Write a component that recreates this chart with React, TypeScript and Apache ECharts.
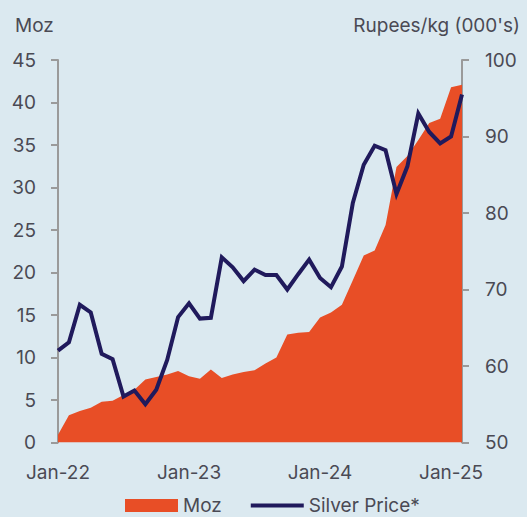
import React, { useEffect, useRef } from "react";
import * as echarts from "echarts";

const months = [
  "Jan-22", "Feb-22", "Mar-22", "Apr-22", "May-22", "Jun-22", "Jul-22", "Aug-22", "Sep-22", "Oct-22", "Nov-22", "Dec-22",
  "Jan-23", "Feb-23", "Mar-23", "Apr-23", "May-23", "Jun-23", "Jul-23", "Aug-23", "Sep-23", "Oct-23", "Nov-23", "Dec-23",
  "Jan-24", "Feb-24", "Mar-24", "Apr-24", "May-24", "Jun-24", "Jul-24", "Aug-24", "Sep-24", "Oct-24", "Nov-24", "Dec-24",
  "Jan-25", "Feb-25",
];

const mozValues = [
  0.9, 3.2, 3.7, 4.1, 4.8, 4.9, 5.6, 6.2, 7.4, 7.7, 8.0, 8.4,
  7.8, 7.5, 8.6, 7.6, 8.0, 8.3, 8.5, 9.3, 10.0, 12.7, 12.9, 13.0,
  14.7, 15.3, 16.2, 19.1, 22.0, 22.6, 25.6, 32.4, 33.7, 35.6, 37.6, 38.1,
  41.8, 42.1,
];

const silverPrice = [
  62.0, 63.1, 68.0, 67.0, 61.6, 60.9, 56.0, 56.8, 55.0, 56.9, 60.8, 66.4,
  68.2, 66.2, 66.3, 74.2, 72.9, 71.1, 72.6, 71.9, 71.9, 70.0, 72.0, 73.9,
  71.5, 70.3, 73.0, 81.3, 86.3, 88.8, 88.2, 82.5, 86.1, 93.0, 90.6, 89.1,
  90.0, 95.5,
];

const leftAxisTitle = "Moz";
const rightAxisTitle = "Rupees/kg (000's)";
const seriesNames = ["Moz", "Silver Price*"];

const BG = "#dbe9f0";
const ORANGE = "#e84e26";
const NAVY = "#201a5c";
const TEXT = "#4a4a54";
const AXIS = "#9a9a9a";
const FONT = "Inter";

export default function App() {
  const ref = useRef<HTMLDivElement>(null);
  useEffect(() => {
    if (!ref.current) return;
    const chart = echarts.init(ref.current, null, { renderer: "svg" });
    chart.setOption({
      animation: false,
      backgroundColor: BG,
      textStyle: { fontFamily: FONT },
      grid: { left: 58, right: 65, top: 60, bottom: 74.5, containLabel: false },
      graphic: [
        {
          type: "text",
          left: 15,
          top: 16,
          style: { text: leftAxisTitle, fill: TEXT, font: `19px ${FONT}` },
        },
        {
          type: "text",
          right: 7,
          top: 16,
          style: { text: rightAxisTitle, fill: TEXT, font: `19px ${FONT}` },
        },
      ],
      legend: {
        left: 120,
        top: 491,
        itemWidth: 53,
        itemHeight: 13,
        itemGap: 27,
        textStyle: { color: TEXT, fontSize: 19, fontFamily: FONT },
        data: [
          { name: seriesNames[0], icon: "rect", itemStyle: { color: ORANGE } },
          {
            name: seriesNames[1],
            itemStyle: { color: "transparent", borderWidth: 0, opacity: 0 },
            lineStyle: { color: NAVY, width: 4 },
          },
        ],
      },
      xAxis: {
        type: "category",
        data: months,
        boundaryGap: false,
        axisLine: { show: false },
        axisTick: { show: false },
        axisLabel: { interval: 11, color: TEXT, fontSize: 19, fontFamily: FONT, margin: 20 },
      },
      yAxis: [
        {
          type: "value",
          min: 0,
          max: 45,
          interval: 5,
          position: "left",
          splitLine: { show: false },
          axisLine: { show: true, lineStyle: { color: AXIS, width: 2 } },
          axisTick: { show: true, length: 7, lineStyle: { color: AXIS, width: 2 } },
          axisLabel: { color: TEXT, fontSize: 19, fontFamily: FONT, margin: 22 },
        },
        {
          type: "value",
          min: 50,
          max: 100,
          interval: 10,
          position: "right",
          splitLine: { show: false },
          axisLine: { show: true, lineStyle: { color: AXIS, width: 2 } },
          axisTick: { show: true, length: 7, lineStyle: { color: AXIS, width: 2 } },
          axisLabel: { color: TEXT, fontSize: 19, fontFamily: FONT, margin: 23 },
        },
      ],
      series: [
        {
          name: seriesNames[0],
          type: "line",
          yAxisIndex: 0,
          data: mozValues,
          symbol: "none",
          itemStyle: { color: ORANGE },
          lineStyle: { width: 0, color: ORANGE },
          areaStyle: { color: ORANGE, opacity: 1 },
          z: 1,
        },
        {
          name: seriesNames[1],
          type: "line",
          yAxisIndex: 1,
          data: silverPrice,
          symbol: "none",
          itemStyle: { color: NAVY },
          lineStyle: { width: 4, color: NAVY, join: "miter" },
          z: 3,
        },
      ],
    });
    return () => chart.dispose();
  }, []);
  return (
    <div
      ref={ref}
      style={{ position: "fixed", left: 0, top: 0, width: 527, height: 517 }}
    />
  );
}
